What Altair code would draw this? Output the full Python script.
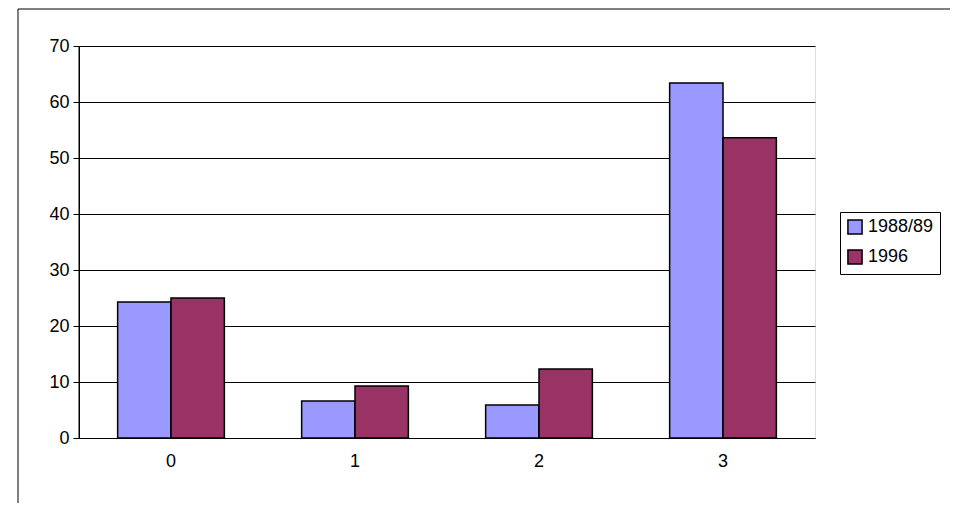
import altair as alt
import pandas as pd

categories = ["0", "1", "2", "3"]
s1988 = [24.3, 6.6, 5.9, 63.4]
s1996 = [25.0, 9.3, 12.3, 53.6]
series = ["1988/89", "1996"]

rows = []
for i, c in enumerate(categories):
    rows.append({"cat": c, "series": series[0], "value": s1988[i]})
    rows.append({"cat": c, "series": series[1], "value": s1996[i]})
df = pd.DataFrame(rows)

font = "Liberation Sans"

frame = alt.Chart(pd.DataFrame({"a": [0]})).mark_rect(
    fill=None, stroke="black", strokeWidth=1
).encode(x=alt.value(-61), x2=alt.value(900), y=alt.value(-37), y2=alt.value(500))

yline = alt.Chart(pd.DataFrame({"a": [0]})).mark_rule(color="black", strokeWidth=1).encode(
    x=alt.value(0), y=alt.value(0), y2=alt.value(392))

bars = alt.Chart(df).mark_bar(stroke="black", strokeWidth=1.5).encode(
    x=alt.X("cat:N", sort=categories, title=None,
            scale=alt.Scale(paddingInner=0.42, paddingOuter=0.21),
            axis=alt.Axis(labelAngle=0, ticks=False, labelPadding=14, domainColor="black",
                          labelFontSize=18, labelFont=font, labelColor="black")),
    xOffset=alt.XOffset("series:N", sort=series, scale=alt.Scale(paddingInner=0, paddingOuter=0)),
    y=alt.Y("value:Q", title=None,
            scale=alt.Scale(domain=[0, 70]),
            axis=alt.Axis(values=list(range(0, 71, 10)), gridColor="black", gridOpacity=1,
                          domain=True, domainColor="black", tickColor="black", tickSize=6,
                          labelFontSize=18, labelFont=font, labelColor="black", labelPadding=4)),
    color=alt.Color("series:N", sort=series,
                    scale=alt.Scale(domain=series, range=["#9999FF", "#993366"]),
                    legend=alt.Legend(title=None, orient="none", legendX=761, legendY=166,
                                      symbolType="square", symbolSize=200, symbolStrokeColor="black",
                                      symbolStrokeWidth=1.5,
                                      labelFontSize=18, labelFont=font, labelColor="black",
                                      strokeColor="black", padding=6, rowPadding=8)),
)

chart = alt.layer(frame, bars, yline).properties(
    width=736, height=392, padding={"left": 71, "top": 38, "right": 135, "bottom": 65},
    autosize=alt.AutoSizeParams(type="none"),
).configure_view(stroke=None).configure(background="white")

chart.save("out.html", embed_options={"renderer": "svg", "actions": False})
